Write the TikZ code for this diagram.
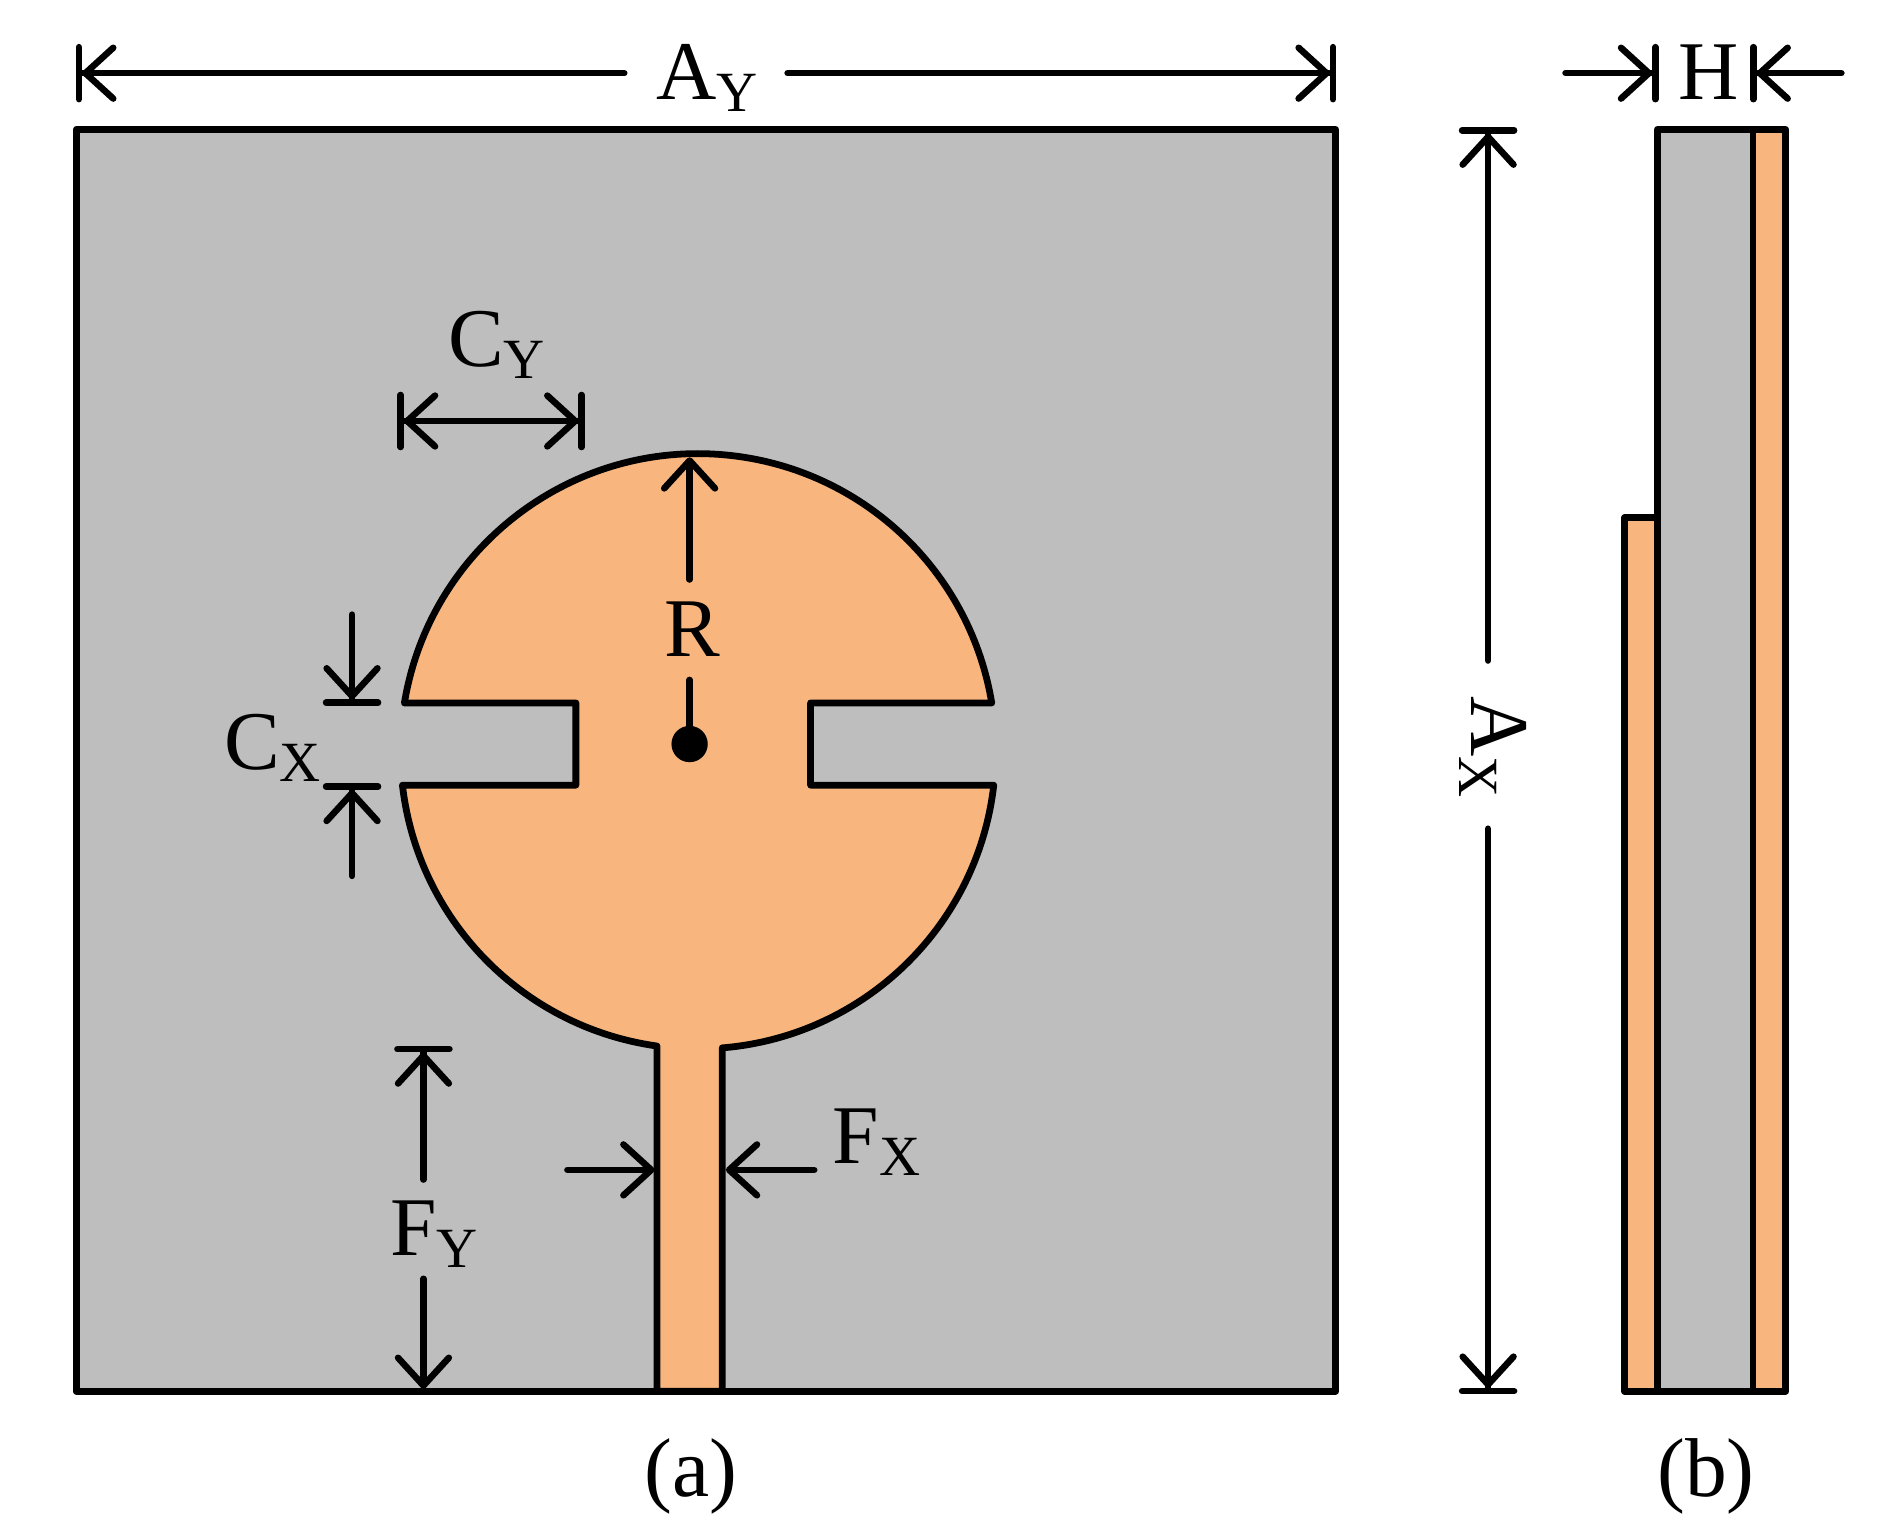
\documentclass[tikz,border=0pt]{standalone}
\usepackage{fontspec}
\setmainfont{Liberation Serif}
\usetikzlibrary{positioning}
\usetikzlibrary{arrows.meta}

\definecolor{subgray}{HTML}{BEBEBE}
\definecolor{copper}{HTML}{F8B67E}
\newcommand{\sublbl}[1]{\raisebox{-5pt}{\fontsize{23.5}{26}\selectfont #1}}

\tikzset{
    outline/.style={draw=black,line width=2.8pt,line join=round},
    dim/.style={line width=2.7pt,line cap=round},
    lbl/.style={inner sep=0pt,font=\fontsize{34.5}{38}\selectfont},
    barb/.tip={Straight Barb[length=11.5pt,width=21pt,round]},
    barbar/.tip={Bar[width=21.5pt,round,sep=0pt]}
}

\begin{document}
\begin{tikzpicture}[x=0.5pt,y=0.5pt]
\useasboundingbox (0,0) rectangle (1568,1268);

    % front view
    \fill[subgray,outline] (63,118) rectangle (1104,1161);
    \fill[copper,outline] (577,647) ++(170.67:246) arc[start angle=170.67,end angle=9.33,radius=246]
        -- (670,687) -- (670,619) -- (821.4,619)
        arc[start angle=-6.54,end angle=-85.34,radius=246]
        -- (597,118) -- (543,118) -- (543,403.4)
        arc[start angle=-97.95,end angle=-173.46,radius=246]
        -- (476,619) -- (476,687) -- cycle;
    \node[circle,fill=black,minimum size=15pt,inner sep=0pt] (dot) at (570,653) {};

    % side view
    \fill[copper,outline] (1343,118) rectangle (1370,840);
    \fill[subgray,outline] (1370,118) rectangle (1449,1161);
    \fill[copper,outline] (1449,118) rectangle (1476,1161);

    % labels
    \node[lbl,anchor=base west] (lblAY) at (542,1186) {A\sublbl{Y}};
    \node[lbl,anchor=base west] (lblH) at (1387,1186) {H};
    \node[lbl,anchor=base west,rotate=-90] (lblAX) at (1216,693) {A\sublbl{X}};
    \node[lbl,anchor=base west] (lblCY) at (370,965) {C\sublbl{Y}};
    \node[lbl,anchor=base west] (lblCX) at (185,632) {C\sublbl{X}};
    \node[lbl,anchor=base west] (lblR) at (549,725) {R};
    \node[lbl,anchor=base west] (lblFY) at (322,230) {F\sublbl{Y}};
    \node[lbl,anchor=base west] (lblFX) at (688,306) {F\sublbl{X}};
    \node[lbl,anchor=base] (lblA) at (571,31) {(a)};
    \node[lbl,anchor=base] (lblB) at (1410,31) {(b)};

    % ends of the dimension lines
    \coordinate (ay1) at (62.5,1207.5);
    \coordinate (ay2) at (516,1207.5);
    \coordinate (ay3) at (651,1207.5);
    \coordinate (ay4) at (1104.5,1207.5);
    \coordinate (h1) at (1294,1207.5);
    \coordinate (h2) at (1371,1207.5);
    \coordinate (h3) at (1522,1207.5);
    \coordinate (h4) at (1446.5,1207.5);
    \coordinate (ax1) at (1230,1163);
    \coordinate (ax2) at (1230,722);
    \coordinate (ax3) at (1230,583);
    \coordinate (ax4) at (1230,115.5);
    \coordinate (cy1) at (328.5,920);
    \coordinate (cy2) at (483.5,920);
    \coordinate (cx1) at (291,760);
    \coordinate (cx2) at (291,684.5);
    \coordinate (cx3) at (291,544);
    \coordinate (cx4) at (291,620.5);
    \coordinate (r1) at (570,789);
    \coordinate (r2) at (570,890);
    \coordinate (r3) at (570,706);
    \coordinate (fy1) at (350,403.5);
    \coordinate (fy2) at (350,293);
    \coordinate (fy3) at (350,211);
    \coordinate (fy4) at (350,120);
    \coordinate (fx1) at (469,301);
    \coordinate (fx2) at (541,301);
    \coordinate (fx3) at (673,301);
    \coordinate (fx4) at (600,301);

    \draw[dim,{barbar[]barb[]}-] (ay1) -- (ay2);
    \draw[dim,-{barb[]barbar[]}] (ay3) -- (ay4);
    \draw[dim,-{barb[]barbar[]}] (h1) -- (h2);
    \draw[dim,-{barb[]barbar[]}] (h3) -- (h4);
    \draw[dim,{barbar[]barb[]}-] (ax1) -- (ax2);
    \draw[dim,-{barb[]barbar[]}] (ax3) -- (ax4);
    \draw[dim,{barbar[]barb[]}-{barb[]barbar[]}] (cy1) -- (cy2);
    \draw[dim,-{barb[]barbar[]}] (cx1) -- (cx2);
    \draw[dim,-{barb[]barbar[]}] (cx3) -- (cx4);
    \draw[dim,-{barb[]}] (r1) -- (r2);
    \draw[dim] (r3) -- (dot);
    \draw[dim,{barbar[]barb[]}-] (fy1) -- (fy2);
    \draw[dim,-{barb[]}] (fy3) -- (fy4);
    \draw[dim,-{barb[]}] (fx1) -- (fx2);
    \draw[dim,-{barb[]}] (fx3) -- (fx4);

\end{tikzpicture}
\end{document}
